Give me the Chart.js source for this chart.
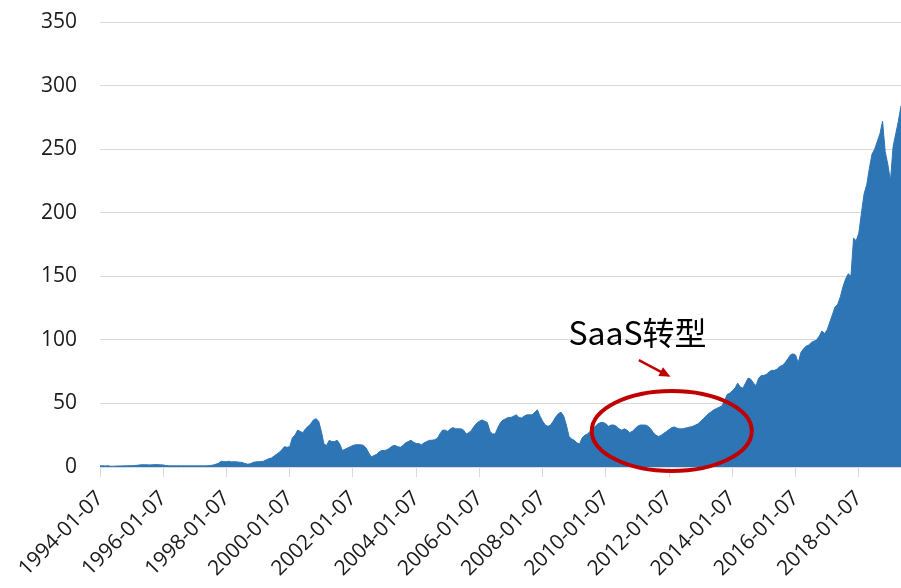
<!DOCTYPE html>
<html>
<head>
<meta charset="utf-8">
<script src="https://cdn.jsdelivr.net/npm/chart.js@4.4.1/dist/chart.umd.min.js"></script>
<style>
  html, body { margin: 0; padding: 0; background: #fff; }
</style>
</head>
<body>
<canvas id="myChart" width="901" height="588"></canvas>
<script>
/** Data: monthly close, 1994-01 .. 2019-05 */

const firstYear = 1994;
const tickEvery = 24; // one label every two years

const closePrice = [
  0.9, 1, 0.8, 1, 0.6, 0.6, 0.7, 0.8, 0.8, 0.9, 0.9, 1,          // 1994
  1, 1.2, 1.3, 1.6, 1.8, 1.8, 1.7, 1.6, 1.8, 1.9, 1.8, 1.7,      // 1995
  1.6, 1.2, 1, 0.9, 0.9, 0.9, 0.9, 0.9, 0.9, 0.9, 0.9, 0.9,      // 1996
  0.9, 0.9, 0.9, 0.9, 0.9, 1, 1.2, 1.6, 2.2, 3, 4.5, 4.2,        // 1997
  4.2, 4.5, 4, 4.2, 4, 3.8, 3.5, 2.8, 2.2, 2.5, 3.5, 4,          // 1998
  4.2, 4.3, 4.5, 5.5, 6.5, 7, 8.5, 10, 11.5, 13.5, 16, 15.5,     // 1999
  16, 23, 25, 29, 28, 27, 30, 32, 34, 37, 38, 36,                // 2000
  28, 18, 17, 21, 20, 20, 21, 18, 13, 14, 15, 16,                // 2001
  17, 17.5, 17.5, 17.5, 17, 15, 11, 8, 9, 10, 12, 13,            // 2002
  13, 13.5, 15, 16.5, 17, 16, 15.5, 17, 19, 20, 21, 19.5,        // 2003
  18.5, 18.5, 17.5, 19, 20, 21, 21, 21.5, 22.5, 26, 29, 29,      // 2004
  28, 30, 31, 30, 30, 30, 29, 26, 27, 29, 32, 34.5,              // 2005
  36, 37, 36, 35, 28, 26, 26, 31, 35, 37, 38, 39,                // 2006
  39, 40, 41, 39, 38.5, 40, 41, 41, 41, 43, 45, 40,              // 2007
  36, 33, 32, 33, 36, 39.5, 42, 43, 40, 33, 24, 22,              // 2008
  21, 19, 18, 23, 25, 26, 28, 30, 32, 34, 35, 35,                // 2009
  34, 32, 33, 33, 32, 30, 29, 30, 29, 27, 28, 30,                // 2010
  32, 33, 33, 33, 32, 30, 27, 25, 24, 25, 26.5, 28,              // 2011
  29.5, 31, 31.5, 30.5, 30, 30, 30.5, 31, 31.5, 32, 33, 34,      // 2012
  36, 38, 40, 42, 43.5, 45, 46, 47, 48, 52, 57, 58,              // 2013
  60, 62, 66, 63, 62, 66, 70, 69, 66, 64, 70, 72,                // 2014
  72, 73, 75, 76, 76, 77, 79, 80, 82, 85, 88, 89,                // 2015
  88, 82, 90, 93, 95, 96, 98, 99, 100, 103, 107, 105,            // 2016
  108, 114, 120, 126, 128, 134, 142, 148, 152, 150, 180, 178,    // 2017
  184, 200, 215, 222, 235, 246, 250, 256, 262, 272, 248, 238,    // 2018
  225, 252, 262, 272, 284                                        // 2019
];

// category labels, e.g. "1994-01-07"
const labels = closePrice.map((v, i) => {
  const yr = firstYear + Math.floor(i / 12);
  const mo = String((i % 12) + 1).padStart(2, "0");
  return yr + "-" + mo + "-07";
});

const yTicks = [0, 50, 100, 150, 200, 250, 300, 350];

// annotation anchors (category index, value)
const noteText = "SaaS转型";
const noteTextAt = [204, 96];
const noteArrow = [[204.5, 84], [216.5, 71]];
const noteEllipse = [217, 28.3];

/** Annotation plugin */

const saasNote = {
  id: "saasNote",
  afterDatasetsDraw(chart) {
    const { ctx } = chart;
    const xs = chart.scales.x;
    const ys = chart.scales.y;
    const red = "#c00000";

    ctx.save();

    // ellipse
    ctx.strokeStyle = red;
    ctx.lineWidth = 4;
    ctx.beginPath();
    ctx.ellipse(xs.getPixelForValue(noteEllipse[0]), ys.getPixelForValue(noteEllipse[1]), 80, 40, 0, 0, Math.PI * 2);
    ctx.stroke();

    // arrow
    const x1 = xs.getPixelForValue(noteArrow[0][0]);
    const y1 = ys.getPixelForValue(noteArrow[0][1]);
    const x2 = xs.getPixelForValue(noteArrow[1][0]);
    const y2 = ys.getPixelForValue(noteArrow[1][1]);
    const ang = Math.atan2(y2 - y1, x2 - x1);
    ctx.lineWidth = 2.5;
    ctx.beginPath();
    ctx.moveTo(x1, y1);
    ctx.lineTo(x2 - 8 * Math.cos(ang), y2 - 8 * Math.sin(ang));
    ctx.stroke();
    ctx.fillStyle = red;
    ctx.beginPath();
    ctx.moveTo(x2, y2);
    ctx.lineTo(x2 - 11 * Math.cos(ang) + 5 * Math.sin(ang), y2 - 11 * Math.sin(ang) - 5 * Math.cos(ang));
    ctx.lineTo(x2 - 11 * Math.cos(ang) - 5 * Math.sin(ang), y2 - 11 * Math.sin(ang) + 5 * Math.cos(ang));
    ctx.closePath();
    ctx.fill();

    // text
    ctx.fillStyle = "#000";
    ctx.font = '32px "Noto Sans CJK SC"';
    ctx.textAlign = "center";
    ctx.textBaseline = "alphabetic";
    ctx.fillText(noteText, xs.getPixelForValue(noteTextAt[0]), ys.getPixelForValue(noteTextAt[1]));

    ctx.restore();
  },
};

/** Chart */

const tickFont = { family: '"Open Sans", sans-serif', size: 21 };

const chart1 = new Chart(document.getElementById("myChart").getContext("2d"), {
  type: "line",
  data: {
    labels: labels,
    datasets: [
      {
        data: closePrice,
        fill: "origin",
        backgroundColor: "#2e75b6",
        borderColor: "#2e75b6",
        borderWidth: 1,
        pointRadius: 0,
        tension: 0,
      },
    ],
  },
  options: {
    responsive: false,
    animation: false,
    layout: { padding: { top: 22, right: 0, bottom: 0, left: 0 } },
    plugins: {
      legend: { display: false },
      tooltip: { enabled: false },
    },
    scales: {
      x: {
        offset: false,
        afterFit: (s) => { s.height = 121; s.paddingRight = 0; },
        border: { display: true, color: "#d9d9d9" },
        grid: {
          drawOnChartArea: false,
          drawTicks: true,
          tickLength: 10,
          offset: false,
          color: (c) => (c.index % tickEvery === 0 ? "#d9d9d9" : "rgba(0,0,0,0)"),
        },
        ticks: {
          autoSkip: false,
          minRotation: 45,
          maxRotation: 45,
          padding: 9,
          color: "#1a1a1a",
          font: tickFont,
          callback: (v, i) => (i % tickEvery === 0 ? labels[i] : ""),
        },
      },
      y: {
        min: yTicks[0],
        max: yTicks[yTicks.length - 1],
        afterFit: (s) => { s.width = 100; s.paddingTop = 0; s.paddingBottom = 0; },
        afterBuildTicks: (s) => { s.ticks = yTicks.map((v) => ({ value: v })); },
        border: { display: false },
        grid: { color: "#d9d9d9", drawTicks: false },
        ticks: { padding: 23, color: "#1a1a1a", font: tickFont },
      },
    },
  },
  plugins: [saasNote],
});
</script>
</body>
</html>
